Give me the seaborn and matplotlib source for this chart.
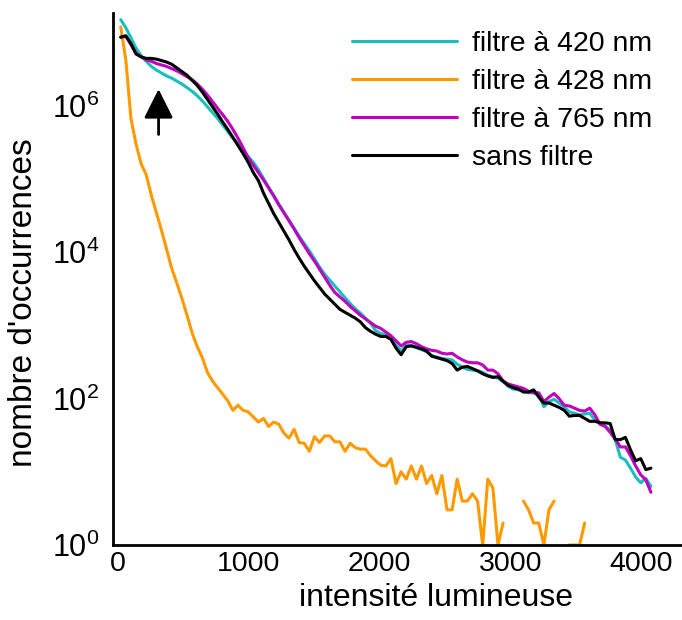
import numpy as np
import pandas as pd
import matplotlib
matplotlib.use("Agg")
import matplotlib.pyplot as plt
from matplotlib.ticker import NullLocator
import seaborn as sns

# histogram bin centres: 105 bins of width 39 over 0..4095
bin_centres = np.arange(19.5, 4096, 39.0)

# log10(number of occurrences) per bin (nan = empty bin)
log_420 = [
    7.18, 7.07, 6.93, 6.79, 6.69, 6.61, 6.54, 6.49, 6.45, 6.41,
    6.38, 6.34, 6.30, 6.25, 6.20, 6.14, 6.07, 5.99, 5.91, 5.83,
    5.74, 5.65, 5.56, 5.49, 5.40, 5.31, 5.23, 5.13, 5.01, 4.89,
    4.78, 4.66, 4.55, 4.44, 4.33, 4.22, 4.12, 4.02, 3.91, 3.80,
    3.70, 3.62, 3.54, 3.46, 3.38, 3.30, 3.23, 3.17, 3.10, 3.03,
    2.93, 2.89, 2.87, 2.84, 2.73, 2.65, 2.73, 2.73, 2.70, 2.67,
    2.64, 2.59, 2.57, 2.55, 2.54, 2.53, 2.47, 2.43, 2.40, 2.39,
    2.38, 2.36, 2.32, 2.30, 2.28, 2.23, 2.17, 2.13, 2.12, 2.12,
    2.08, 2.08, 2.05, 1.89, 1.96, 1.99, 1.94, 1.89, 1.82, 1.80,
    1.78, 1.79, 1.80, 1.71, 1.66, 1.63, 1.56, 1.44, 1.20, 1.16,
    1.05, 0.93, 0.85, 0.91, 0.80,
]
log_428 = [
    7.08, 6.63, 5.83, 5.48, 5.21, 5.06, 4.78, 4.54, 4.30, 4.04,
    3.78, 3.58, 3.37, 3.14, 2.90, 2.71, 2.56, 2.36, 2.24, 2.15,
    2.06, 1.97, 1.84, 1.91, 1.84, 1.82, 1.75, 1.68, 1.73, 1.62,
    1.68, 1.65, 1.53, 1.46, 1.58, 1.40, 1.39, 1.28, 1.48, 1.40,
    1.49, 1.49, 1.41, 1.41, 1.28, 1.39, 1.33, 1.31, 1.31, 1.22,
    1.15, 1.09, 1.08, 1.18, 0.84, 1.00, 0.90, 1.08, 0.90, 1.08,
    0.84, 0.95, 0.70, 0.95, 0.48, 0.48, 0.90, 0.60, 0.60, 0.70,
    0.60, 0.00, 0.90, 0.78, 0.00, 0.30, np.nan, 0.30, np.nan, 0.60,
    0.48, 0.30, 0.30, 0.00, 0.48, 0.60, np.nan, np.nan, 0.00, 0.00,
    0.00, 0.30, np.nan, np.nan, np.nan, np.nan, np.nan, np.nan, np.nan, np.nan,
    np.nan, np.nan, np.nan, np.nan, np.nan,
]
log_765 = [
    6.94, 6.95, 6.84, 6.72, 6.67, 6.63, 6.61, 6.58, 6.56, 6.54,
    6.51, 6.48, 6.44, 6.40, 6.36, 6.30, 6.23, 6.15, 6.06, 5.97,
    5.88, 5.79, 5.68, 5.56, 5.43, 5.29, 5.19, 5.09, 4.99, 4.88,
    4.77, 4.65, 4.54, 4.43, 4.32, 4.20, 4.09, 3.98, 3.88, 3.77,
    3.66, 3.55, 3.45, 3.39, 3.33, 3.26, 3.20, 3.14, 3.09, 3.04,
    2.99, 2.96, 2.91, 2.86, 2.79, 2.72, 2.77, 2.78, 2.75, 2.71,
    2.68, 2.66, 2.65, 2.62, 2.61, 2.62, 2.57, 2.53, 2.50, 2.49,
    2.49, 2.46, 2.39, 2.39, 2.34, 2.24, 2.20, 2.18, 2.16, 2.14,
    2.10, 2.08, 2.08, 1.96, 2.02, 2.07, 2.00, 1.91, 1.90, 1.87,
    1.84, 1.83, 1.87, 1.78, 1.65, 1.62, 1.54, 1.45, 1.34, 1.34,
    1.22, 1.08, 0.96, 0.89, 0.72,
]
log_sans = [
    6.94, 6.96, 6.85, 6.71, 6.67, 6.65, 6.65, 6.64, 6.62, 6.60,
    6.57, 6.52, 6.47, 6.42, 6.35, 6.28, 6.19, 6.09, 5.99, 5.89,
    5.78, 5.68, 5.57, 5.46, 5.35, 5.23, 5.09, 4.98, 4.81, 4.67,
    4.53, 4.41, 4.29, 4.17, 4.04, 3.92, 3.81, 3.71, 3.61, 3.52,
    3.43, 3.36, 3.29, 3.22, 3.18, 3.14, 3.10, 3.05, 2.97, 2.92,
    2.88, 2.85, 2.85, 2.81, 2.69, 2.60, 2.71, 2.72, 2.70, 2.68,
    2.65, 2.58, 2.56, 2.54, 2.52, 2.48, 2.39, 2.43, 2.44, 2.41,
    2.38, 2.34, 2.31, 2.29, 2.30, 2.24, 2.18, 2.15, 2.13, 2.09,
    2.09, 2.12, 2.02, 1.94, 1.94, 1.91, 1.88, 1.84, 1.76, 1.77,
    1.77, 1.73, 1.69, 1.69, 1.67, 1.67, 1.66, 1.44, 1.44, 1.47,
    1.30, 1.15, 1.18, 1.03, 1.05,
]

series_names = ["filtre à 420 nm", "filtre à 428 nm", "filtre à 765 nm", "sans filtre"]
series_colours = ["#19BFBF", "#FF9900", "#BF00BF", "#000000"]

frames = []
for name, logs in zip(series_names, [log_420, log_428, log_765, log_sans]):
    logs = np.asarray(logs, dtype=float)
    frames.append(pd.DataFrame({
        "intensite": bin_centres,
        "occurrences": 10 ** logs,
        "serie": name,
        # empty bins break the line: a new segment starts after each one
        "segment": np.cumsum(np.isnan(logs)),
    }))
df = pd.concat(frames, ignore_index=True)

sns.set_style("white")
plt.rcParams["font.family"] = ["Liberation Sans", "DejaVu Sans"]
plt.rcParams["mathtext.fontset"] = "custom"
plt.rcParams["mathtext.rm"] = "Liberation Sans"
plt.rcParams["mathtext.it"] = "Liberation Sans:italic"
for key in ("text.color", "axes.labelcolor", "xtick.color", "ytick.color"):
    plt.rcParams[key] = "black"

fig = plt.figure(figsize=(6.82, 6.2), dpi=100)
ax = fig.add_axes([0.166, 0.121, 0.833, 0.858])
ax.set_yscale("log")

sns.lineplot(
    data=df, x="intensite", y="occurrences",
    hue="serie", hue_order=series_names, palette=series_colours,
    units="segment", estimator=None, sort=False,
    linewidth=2.2, ax=ax,
)

ax.set_xlim(-38, 4308)
ax.set_ylim(1, 10 ** 7.27)
ax.set_xticks([0, 1000, 2000, 3000, 4000])
ax.set_yticks([1, 1e2, 1e4, 1e6])
ax.yaxis.set_minor_locator(NullLocator())
ax.tick_params(direction="in", length=5, width=1.5)
ax.tick_params(axis="y", pad=10, labelsize=22)
ax.tick_params(axis="x", pad=4.5, labelsize=20.5)
sns.despine(ax=ax)
for side in ("left", "bottom"):
    ax.spines[side].set_linewidth(2)
    ax.spines[side].set_color("black")

ax.set_xlabel("intensité lumineuse", fontsize=23)
ax.set_ylabel("nombre d'occurrences", fontsize=24)
ax.xaxis.set_label_coords(0.569, -0.072)
ax.yaxis.set_label_coords(-0.13, 0.455)

# arrow pointing at the shoulder of the curves
ax.annotate(
    "", xy=(309, 10 ** 6.23), xytext=(309, 10 ** 5.61),
    arrowprops=dict(arrowstyle="-|>,head_length=0.9,head_width=0.45",
                    mutation_scale=20, lw=2, color="black",
                    shrinkA=0, shrinkB=0),
)

sns.move_legend(
    ax, "upper left",
    bbox_to_anchor=(352 / 682, 1 - 31 / 620), bbox_transform=fig.transFigure,
    frameon=False, title=None, fontsize=20.5,
    handlelength=3.7, handletextpad=0.5, labelspacing=0.42,
    borderpad=0, borderaxespad=0,
)
for line in ax.get_legend().get_lines():
    line.set_linewidth(2.2)

fig.savefig("out.png", dpi=100)
